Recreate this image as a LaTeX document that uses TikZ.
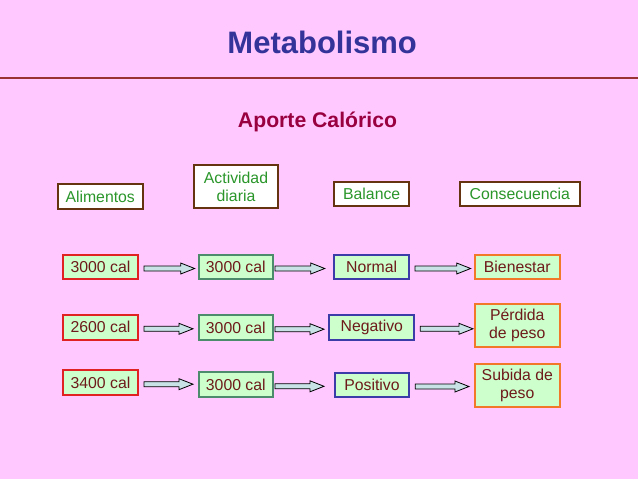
\documentclass[tikz,border=0pt]{standalone}
\usepackage{fontspec}
\setmainfont{Liberation Sans}
\usetikzlibrary{calc}
\definecolor{fondo}{HTML}{FFC8FF}
\definecolor{tituloazul}{HTML}{333399}
\definecolor{aporterojo}{HTML}{990040}
\definecolor{linearoja}{HTML}{993333}
\definecolor{cabborde}{HTML}{663311}
\definecolor{cabtexto}{HTML}{2A962A}
\definecolor{verdeclaro}{HTML}{CCFFCC}
\definecolor{rojotexto}{HTML}{6E1A1A}
\definecolor{bordeA}{HTML}{E02222}
\definecolor{bordeB}{HTML}{4C8C6C}
\definecolor{bordeC}{HTML}{3C3CA8}
\definecolor{bordeD}{HTML}{F07828}
\definecolor{azulflecha}{HTML}{C8E2E6}
\tikzset{
  cab/.style={draw=cabborde, fill=white, text=cabtexto, line width=2pt, inner sep=0pt, align=center, font=\fontsize{15.8}{18}\selectfont},
  dato/.style={fill=verdeclaro, text=rojotexto, line width=2pt, inner sep=0pt, align=center, font=\fontsize{15.8}{18}\selectfont},
  flecha/.style 2 args={draw=black, fill=azulflecha, line width=0.8pt, line join=miter, to path={
    let \p1=(\tikztostart.east), \p2=(\tikztotarget.west) in
    (\x1+#1,\y1+1) -- (\x2-#2-14,\y1+1) -- (\x2-#2-14,\y1+4) -- (\x2-#2,\y1-1.5) -- (\x2-#2-14,\y1-7) -- (\x2-#2-14,\y1-4) -- (\x1+#1,\y1-4) -- cycle}}
}
\begin{document}
\begin{tikzpicture}[x=1pt,y=-1pt]
  \fill[fondo] (0,0) rectangle (638,479);
  \useasboundingbox (0,0) rectangle (638,479);
  \node[anchor=base, text=tituloazul, font=\bfseries\fontsize{31}{36}\selectfont] (titulo) at (322.2,53.3) {Metabolismo};
  \draw[linearoja, line width=2.2pt] (0,78.3) -- (638,78.3);
  \node[anchor=base, text=aporterojo, font=\bfseries\fontsize{21.2}{25}\selectfont] (aporte) at (317.5,127.3) {Aporte Calórico};

  \node[cab, minimum width=85pt, minimum height=24.7pt] (alim) at (100.2,196.7) {Alimentos};
  \node[cab, minimum width=84pt, minimum height=43pt] (activ) at (236,186.5) {Actividad\\diaria};
  \node[cab, minimum width=74.7pt, minimum height=24.3pt] (balan) at (371.7,194.2) {Balance};
  \node[cab, minimum width=119.7pt, minimum height=24.3pt] (conse) at (519.8,194.2) {Consecuencia};

  \node[dato, draw=bordeA, minimum width=74.4pt, minimum height=24.7pt] (a1) at (100.5,267) {3000 cal};
  \node[dato, draw=bordeB, minimum width=74.3pt, minimum height=24.3pt] (b1) at (235.8,267) {3000 cal};
  \node[dato, draw=bordeC, minimum width=74.7pt, minimum height=24.3pt] (c1) at (371.7,267) {Normal};
  \node[dato, draw=bordeD, minimum width=84.7pt, minimum height=24pt] (d1) at (517.3,267) {Bienestar};

  \node[dato, draw=bordeA, minimum width=74.4pt, minimum height=24.7pt] (a2) at (100.5,327.3) {2600 cal};
  \node[dato, draw=bordeB, minimum width=74.3pt, minimum height=24.7pt] (b2) at (235.8,327.7) {3000 cal};
  \node[dato, draw=bordeC, minimum width=85pt, minimum height=24.7pt] (c2) at (371.8,327.3) {Negativo};
  \node[dato, draw=bordeD, minimum width=84.7pt, minimum height=43pt] (d2) at (517.3,325.2) {Pérdida\\de peso};

  \node[dato, draw=bordeA, minimum width=74.4pt, minimum height=24.7pt] (a3) at (100.5,382.7) {3400 cal};
  \node[dato, draw=bordeB, minimum width=74.3pt, minimum height=25pt] (b3) at (235.8,384.8) {3000 cal};
  \node[dato, draw=bordeC, minimum width=74pt, minimum height=24.6pt] (c3) at (372,385) {Positivo};
  \node[dato, draw=bordeD, minimum width=84.7pt, minimum height=43.6pt] (d3) at (517.3,385.5) {Subida de\\peso};

  \draw[flecha={5.3}{3}] (a1) to (b1);
  \draw[flecha={1}{8.6}] (b1) to (c1);
  \draw[flecha={5}{3.3}] (c1) to (d1);
  \draw[flecha={5.3}{4.7}] (a2) to (b2);
  \draw[flecha={1}{4.3}] (b2) to (c2);
  \draw[flecha={5}{1}] (c2) to (d2);
  \draw[flecha={5.3}{4.7}] (a3) to (b3);
  \draw[flecha={1}{10}] (b3) to (c3);
  \draw[flecha={5.3}{5}] (c3) to (d3);
\end{tikzpicture}
\end{document}
